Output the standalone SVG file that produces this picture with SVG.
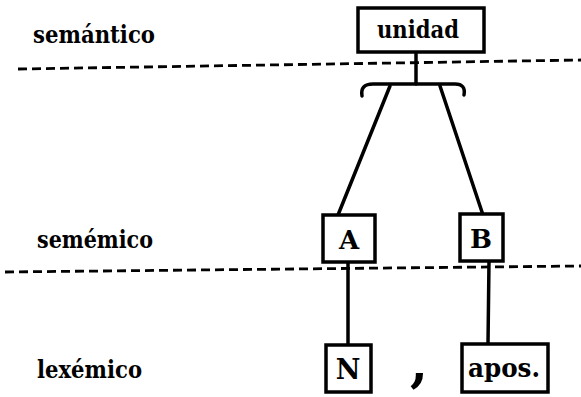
<svg xmlns="http://www.w3.org/2000/svg" width="581" height="397" viewBox="0 0 581 397">
<style>
.box{fill:#fff;stroke:#000;stroke-width:3.5}
.dash{stroke:#000;stroke-width:2.8;stroke-dasharray:9 5;fill:none}
.ln{stroke:#000;stroke-width:3.5;fill:none;stroke-linecap:round}
.t{font-family:"DejaVu Serif","Liberation Serif",serif;font-weight:bold;fill:#000}
.lv{font-size:25px}
</style>
<rect width="581" height="397" fill="#fff"/>
<g id="levels">
<text class="t lv" x="33" y="43" textLength="122" lengthAdjust="spacingAndGlyphs">semántico</text>
<text class="t lv" x="37" y="248" textLength="116" lengthAdjust="spacingAndGlyphs">semémico</text>
<text class="t lv" x="37" y="378" textLength="105" lengthAdjust="spacingAndGlyphs">lexémico</text>
</g>
<g id="dividers">
<line class="dash" x1="18" y1="69" x2="581" y2="60"/>
<line class="dash" x1="5" y1="272" x2="581" y2="266"/>
</g>
<g id="connectors">
<line class="ln" x1="416" y1="52" x2="416" y2="84"/>
<path class="ln" d="M362 96 Q360 84 373 84 L455 84 Q466 84 464 95"/>
<line class="ln" x1="390" y1="86" x2="338" y2="215"/>
<line class="ln" x1="440" y1="86" x2="483" y2="215"/>
<line class="ln" x1="348" y1="262" x2="348" y2="345"/>
<line class="ln" x1="489" y1="261" x2="488" y2="344"/>
</g>
<g text-anchor="middle">
<g id="unidad">
<rect class="box" x="358" y="8" width="126" height="44"/>
<text class="t" x="418" y="38" font-size="25" textLength="82" lengthAdjust="spacingAndGlyphs">unidad</text>
</g>
<g id="A">
<rect class="box" x="323" y="215" width="52" height="47"/>
<text class="t" x="349" y="249" font-size="26">A</text>
</g>
<g id="B">
<rect class="box" x="460" y="214" width="43" height="47"/>
<text class="t" x="481" y="248" font-size="26">B</text>
</g>
<g id="N">
<rect class="box" x="326" y="345" width="45" height="47"/>
<text class="t" x="348" y="379" font-size="27">N</text>
</g>
<text class="t" x="419" y="381" font-size="52">,</text>
<g id="apos">
<rect class="box" x="462" y="344" width="86" height="48"/>
<text class="t" x="504" y="377" font-size="26" textLength="72" lengthAdjust="spacingAndGlyphs">apos.</text>
</g>
</g>
</svg>
